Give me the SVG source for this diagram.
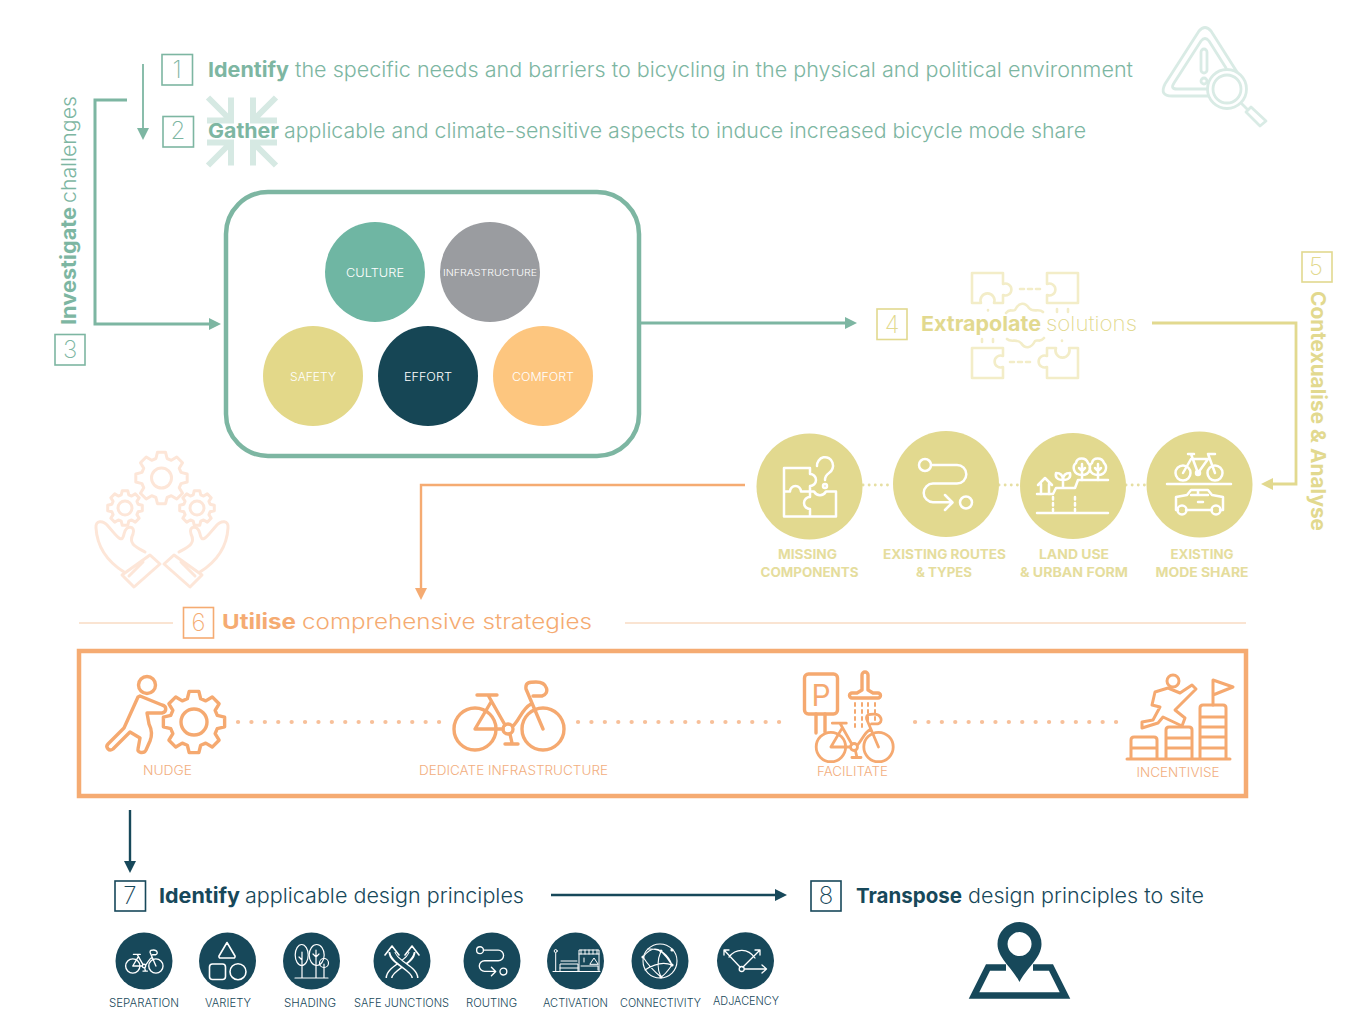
<svg xmlns="http://www.w3.org/2000/svg" width="1346" height="1010" viewBox="0 0 1346 1010">
<style>
text{font-family:Inter,"Liberation Sans",sans-serif}
.bd{font-weight:700}.rg{font-weight:300}.lt{font-weight:200}
.grn{fill:#7db6a2}.yel{fill:#e2d98f}.org{fill:#f5ab72}.drk{fill:#17485a}
.num{font-size:24px;font-weight:200;text-anchor:middle}
.hd{font-size:20.500px}
.box{fill:none;stroke-width:1.600}
.cl{fill:#fff;font-size:11.500px;font-weight:300;text-anchor:middle}
.yl{font-size:13px;font-weight:700;text-anchor:middle;fill:#e5dd9d}
.ol{font-size:12.500px;font-weight:300;text-anchor:middle;fill:#f2ae7e}
.dl{font-size:11px;font-weight:300;text-anchor:middle;fill:#17485a}
.wi{fill:none;stroke:#fff;stroke-width:1.600;stroke-linecap:round;stroke-linejoin:round}
.ywi{fill:none;stroke:#fff;stroke-width:2.500;stroke-linecap:round;stroke-linejoin:round}
.oi{fill:none;stroke:#f5a970;stroke-width:3.400;stroke-linecap:round;stroke-linejoin:round}
.ns{vector-effect:non-scaling-stroke}
</style>
<defs>
<marker id="ag" viewBox="0 0 10 10" refX="0" refY="5" markerWidth="12" markerHeight="14" markerUnits="userSpaceOnUse" orient="auto"><path d="M0,0L10,5L0,10Z" fill="#7db6a2"/></marker>
<marker id="ay" viewBox="0 0 10 10" refX="0" refY="5" markerWidth="12" markerHeight="14" markerUnits="userSpaceOnUse" orient="auto"><path d="M0,0L10,5L0,10Z" fill="#e2d98f"/></marker>
<marker id="ao" viewBox="0 0 10 10" refX="0" refY="5" markerWidth="12" markerHeight="14" markerUnits="userSpaceOnUse" orient="auto"><path d="M0,0L10,5L0,10Z" fill="#f5ab72"/></marker>
<marker id="ad" viewBox="0 0 10 10" refX="0" refY="5" markerWidth="12" markerHeight="14" markerUnits="userSpaceOnUse" orient="auto"><path d="M0,0L10,5L0,10Z" fill="#17485a"/></marker>
<path id="gear" class="ns" d="M75,-21.500L98.800,-15.600L98.800,15.600L75,21.500L68.200,37.800L80.900,58.800L58.800,80.900L37.800,68.200L21.500,75L15.600,98.800L-15.600,98.800L-21.500,75L-37.800,68.200L-58.800,80.900L-80.900,58.800L-68.200,37.800L-75,21.500L-98.800,15.600L-98.800,-15.600L-75,-21.500L-68.200,-37.800L-80.900,-58.800L-58.800,-80.900L-37.800,-68.200L-21.500,-75L-15.600,-98.800L15.600,-98.800L21.500,-75L37.800,-68.200L58.800,-80.900L80.900,-58.800L68.200,-37.800Z"/>
<g id="bike"><circle cx="-33" cy="0" r="21"/><circle cx="35" cy="0" r="21"/><circle cx="0" cy="0" r="5"/><path d="M-31,-34H-11M-20,-34L-3,-4M-5,0H-33L-17,-27M5,-3C12,-10 14,-20 23,-25M35,0L18,-40C17,-47 22,-47 28,-47C40,-47 42,-35 34,-33L25,-33M2,5L4,14M-3,15H10"/></g>
<g id="route"><circle cx="-21" cy="-19" r="6"/><path d="M-15,-19H11a9.300,9.300 0 0 1 0,18.600H-13a9.300,9.300 0 0 0 0,18.600H6M-1,11l7.500,7.500l-7.500,7.500"/><circle cx="20" cy="18.500" r="6"/></g>
<g id="inward"><path d="M-11,-34V-11H-35M-11,-11L-34,-34"/></g>
<g id="hand"><path d="M150,555L160,564L134,587L122,575ZM143,562L129,576"/><path d="M145,552C136,547 128,544 133,534C136,526 126,524 124,534C122,545 116,535 108,526C103,520 95,520 96,528C97,545 105,560 124,572"/></g>
</defs>

<g id="connectors" fill="none">
<path d="M143,64V128" stroke="#7db6a2" stroke-width="1.800" marker-end="url(#ag)"/>
<path d="M127,100H95V324H209" stroke="#7db6a2" stroke-width="3" marker-end="url(#ag)"/>
<path d="M641,323H845" stroke="#7db6a2" stroke-width="3" marker-end="url(#ag)"/>
<path d="M1152,323H1296V484H1273" stroke="#e2d98f" stroke-width="2.800" marker-end="url(#ay)"/>
<path d="M745,485H421V588" stroke="#f5ab72" stroke-width="2.400" marker-end="url(#ao)"/>
<path d="M130,810V861" stroke="#17485a" stroke-width="2.400" marker-end="url(#ad)"/>
<path d="M551,895H775" stroke="#17485a" stroke-width="2.400" marker-end="url(#ad)"/>
<path d="M863,485H893M999,485H1020M1126,485H1147" stroke="#e6dfa3" stroke-width="2.800" stroke-linecap="round" stroke-dasharray="0.100 6"/>
<path d="M238,722H440M578,722H783M915,722H1120" stroke="#f7c09a" stroke-width="4.200" stroke-linecap="round" stroke-dasharray="0.100 13.300"/>
<path d="M79,623H173M625,623H1246" stroke="#f5c9a6" stroke-width="1.200"/>
</g>

<g id="step1">
<rect class="box" x="162" y="54.500" width="30.500" height="30.500" stroke="#7db6a2"/>
<text class="num grn" x="177" y="78">1</text>
<text class="hd grn" y="77"><tspan class="bd" x="208" textLength="81" lengthAdjust="spacingAndGlyphs">Identify</tspan> <tspan class="rg" x="295" textLength="838" lengthAdjust="spacingAndGlyphs">the specific needs and barriers to bicycling in the physical and political environment</tspan></text>
</g>
<g id="warning-icon" fill="none" stroke="#d9ebe5" stroke-width="2.800" stroke-linejoin="round" stroke-linecap="round">
<path d="M1199,31Q1205,24 1211,31L1237,72M1199,31L1165,84Q1159,96 1172,96H1210"/>
<path d="M1201,41Q1205,36 1209,41L1226,68M1201,41L1174,83Q1170,89 1177,89H1208"/>
<rect x="1201" y="49" width="6" height="24" rx="3"/>
<circle cx="1204" cy="81" r="3"/>
<circle cx="1227" cy="89" r="19.500" fill="#fff"/>
<circle cx="1227" cy="89" r="14"/>
<path d="M1242,104L1248,110M1251,107L1266,121L1260,126L1246,112Z"/>
</g>
<g id="gather-icon" fill="none" stroke="#d6e9e3" stroke-width="6">
<use href="#inward" transform="translate(242,131.500)"/>
<use href="#inward" transform="translate(242,131.500) scale(-1,1)"/>
<use href="#inward" transform="translate(242,131.500) scale(1,-1)"/>
<use href="#inward" transform="translate(242,131.500) scale(-1,-1)"/>
</g>
<g id="step2">
<rect class="box" x="163" y="116.500" width="30.500" height="30.500" stroke="#7db6a2"/>
<text class="num grn" x="178" y="139">2</text>
<text class="hd grn" y="138"><tspan class="bd" x="208" textLength="71" lengthAdjust="spacingAndGlyphs">Gather</tspan> <tspan class="rg" x="284" textLength="802" lengthAdjust="spacingAndGlyphs">applicable and climate-sensitive aspects to induce increased bicycle mode share</tspan></text>
</g>
<g id="step3">
<rect class="box" x="55" y="334.500" width="30" height="30.500" stroke="#7db6a2"/>
<text class="num grn" x="70" y="358">3</text>
<text class="hd grn" transform="translate(76,325) rotate(-90)"><tspan class="bd" x="0" textLength="118" lengthAdjust="spacingAndGlyphs">Investigate</tspan> <tspan class="rg" x="122" textLength="107" lengthAdjust="spacingAndGlyphs">challenges</tspan></text>
</g>

<g id="challenges">
<rect x="226" y="192" width="413" height="264" rx="42" fill="#fff" stroke="#7db6a2" stroke-width="4.500"/>
<circle cx="375" cy="272" r="50" fill="#6fb6a3"/><text class="cl" x="375" y="277" textLength="58" lengthAdjust="spacingAndGlyphs">CULTURE</text>
<circle cx="490" cy="272" r="50" fill="#9a9ca0"/><text class="cl" x="490" y="276" style="font-size:9.500px" textLength="94" lengthAdjust="spacingAndGlyphs">INFRASTRUCTURE</text>
<circle cx="313" cy="376" r="50" fill="#e3d889"/><text class="cl" x="313" y="381" textLength="46" lengthAdjust="spacingAndGlyphs">SAFETY</text>
<circle cx="428" cy="376" r="50" fill="#164655"/><text class="cl" x="428" y="381" textLength="48" lengthAdjust="spacingAndGlyphs">EFFORT</text>
<circle cx="543" cy="376" r="50" fill="#fdc67f"/><text class="cl" x="543" y="381" textLength="62" lengthAdjust="spacingAndGlyphs">COMFORT</text>
</g>

<g id="extrapolate-icon" fill="none" stroke="#f3edc8" stroke-width="2.600" stroke-linecap="round" stroke-linejoin="round">
<g id="puzzle-half">
<path d="M972,273H1003V284a6,6 0 1 1 0,11V303H994a7,7 0 1 0 -13,0H972Z"/>
<path d="M1052,273H1078V303H1047V295a6,6 0 1 0 0,-11V273H1052"/>
<path d="M1020,289H1042" stroke-dasharray="4 4"/>
<path d="M1006,313c4,-5 6,-1 9,-3c4,-8 10,-8 14,-2c4,5 10,0 14,4M988,310v.5M1057,309v3M1068,309v3"/>
</g>
<use href="#puzzle-half" transform="rotate(180 1025 325.500)"/>
</g>
<g id="step4">
<rect class="box" x="877" y="309" width="30" height="30.500" stroke="#e2d98f"/>
<text class="num yel" x="892" y="333">4</text>
<text class="hd yel" y="331"><tspan class="bd" x="921" textLength="120" lengthAdjust="spacingAndGlyphs">Extrapolate</tspan> <tspan class="lt" x="1046" textLength="91" lengthAdjust="spacingAndGlyphs">solutions</tspan></text>
</g>
<g id="step5">
<rect class="box" x="1302" y="252" width="30" height="30" stroke="#e2d98f"/>
<text class="num yel" x="1316" y="275">5</text>
<text class="hd bd yel" transform="translate(1311,291) rotate(90)" textLength="240" lengthAdjust="spacingAndGlyphs">Contexualise &amp; Analyse</text>
</g>

<g id="missing-components">
<circle cx="809.500" cy="486.500" r="53" fill="#e2d98f"/>
<path class="ywi" d="M810,468H784V516.500H836V491.500H826c-3,5 -9,5 -12,0H810M784,491.500H790a5.500,5.500 0 0 1 11,0H810M810,468V474a6,6 0 0 1 0,12V497a6,6 0 0 0 0,12V516.500"/>
<path class="ywi" d="M817,466a8,8.500 0 1 1 12,7c-3,2 -4,4 -4,7"/><circle class="ywi" cx="825" cy="486" r="2"/>
<text class="yl" x="807.500" y="559" textLength="59" lengthAdjust="spacingAndGlyphs">MISSING</text>
<text class="yl" x="809.500" y="577" textLength="98" lengthAdjust="spacingAndGlyphs">COMPONENTS</text>
</g>
<g id="existing-routes">
<circle cx="946" cy="484" r="53" fill="#e2d98f"/>
<use href="#route" class="ywi" transform="translate(946,484)"/>
<text class="yl" x="944.500" y="559" textLength="123" lengthAdjust="spacingAndGlyphs">EXISTING ROUTES</text>
<text class="yl" x="944" y="577" textLength="56" lengthAdjust="spacingAndGlyphs">&amp; TYPES</text>
</g>
<g id="land-use">
<circle cx="1073" cy="486" r="53" fill="#e2d98f"/>
<g class="ywi">
<path d="M1037,513H1108M1037,494H1053L1056,488H1075L1078,480H1108"/>
<path d="M1053,497V511M1075,497V511" stroke-dasharray="2.500 3.500"/>
<path d="M1038,485L1045,478L1052,485M1041,484V494M1049,484V494"/>
<path d="M1063,487V480M1063,480c-6,0 -8,-3 -7,-7c4,0 7,2 7,7c0,-5 3,-7 7,-7c1,4 -1,7 -7,7"/>
<path d="M1082,480V464M1079,468L1082,471L1085,468M1098,480V464M1095,468L1098,471L1101,468"/>
<path d="M1082,475c-9,0 -10,-9 -6,-12c1,-6 10,-6 12,0c4,4 2,12 -6,12M1098,475c-9,0 -10,-9 -6,-12c1,-6 10,-6 12,0c4,4 2,12 -6,12"/>
</g>
<text class="yl" x="1074" y="559" textLength="70" lengthAdjust="spacingAndGlyphs">LAND USE</text>
<text class="yl" x="1074" y="577" textLength="108" lengthAdjust="spacingAndGlyphs">&amp; URBAN FORM</text>
</g>
<g id="mode-share">
<circle cx="1199.500" cy="484.500" r="53" fill="#e2d98f"/>
<g class="ywi">
<circle cx="1183" cy="473" r="7.500"/><circle cx="1215" cy="473" r="7.500"/><circle cx="1198" cy="473" r="2"/>
<path d="M1188,454H1194M1191,454L1198,473M1183,473L1191,459H1208L1198,473M1215,473L1208,454H1215"/>
<path d="M1167,484H1231"/>
<path d="M1178,510H1176V497L1187,495L1191,490H1208L1212,495L1223,497V510H1220M1186,510H1212M1191,495H1208M1198,490V495M1198,502H1203"/>
<circle cx="1182" cy="510" r="4.500"/><circle cx="1216" cy="510" r="4.500"/>
</g>
<text class="yl" x="1202" y="559" textLength="63" lengthAdjust="spacingAndGlyphs">EXISTING</text>
<text class="yl" x="1202" y="577" textLength="93" lengthAdjust="spacingAndGlyphs">MODE SHARE</text>
</g>

<g id="hands-icon" fill="none" stroke="#fde6d8" stroke-width="3" stroke-linejoin="round" stroke-linecap="round">
<use href="#gear" transform="translate(161.500,478) scale(.26)"/><circle cx="161.500" cy="478" r="10"/>
<use href="#gear" transform="translate(125,508) scale(.175)"/><circle cx="125" cy="508" r="7"/>
<use href="#gear" transform="translate(197,508) scale(.175)"/><circle cx="197" cy="508" r="7"/>
<use href="#hand"/><use href="#hand" transform="matrix(-1 0 0 1 324 0)"/>
</g>

<g id="step6">
<rect class="box" x="183.500" y="607.500" width="30" height="30.500" stroke="#f5ab72"/>
<text class="num org" x="198.500" y="631">6</text>
<text class="hd org" y="629"><tspan class="bd" x="222" textLength="74" lengthAdjust="spacingAndGlyphs">Utilise</tspan> <tspan class="rg" x="302" textLength="290" lengthAdjust="spacingAndGlyphs">comprehensive strategies</tspan></text>
</g>
<g id="strategies">
<rect x="79" y="651" width="1167" height="145" fill="none" stroke="#f5ab72" stroke-width="4.500"/>
</g>
<g id="nudge">
<g class="oi">
<circle cx="147" cy="685" r="8.500"/>
<path d="M140,696L162,705C167,706 167,712 162,713L147,713L149,724C152,730 152,736 150,741L146,750C144,754 137,753 138,749L140,738L130,732L113,749C109,752 105,747 108,744L124,728L138,697Z"/>
<use href="#gear" transform="translate(194,722) scale(.31)"/><circle cx="194" cy="722" r="13"/>
</g>
<text class="ol" x="167.500" y="775" textLength="49" lengthAdjust="spacingAndGlyphs">NUDGE</text>
</g>
<g id="dedicate">
<use href="#bike" class="oi" transform="translate(508,729)"/>
<text class="ol" x="513.500" y="775" textLength="189" lengthAdjust="spacingAndGlyphs">DEDICATE INFRASTRUCTURE</text>
</g>
<g id="facilitate">
<g class="oi">
<rect x="804.500" y="674" width="33" height="40" rx="4"/>
<path d="M816,714V733M825,714V732"/>
<path d="M862,690V675a3,3 0 0 1 6,0V690M862,690L857,693H852a2.500,2.500 0 0 0 0,5H878a2.500,2.500 0 0 0 0,-5H873L868,690"/>
<path d="M855,703V730M862,703V730M868,703V722M875,703V722" stroke-width="2" stroke-dasharray="3 4"/>
<use href="#bike" transform="translate(854,747) scale(.7)" style="stroke-width:4"/>
</g>
<text style="font-size:30px;font-weight:400;fill:#f5a970;text-anchor:middle" x="821" y="706">P</text>
<text class="ol" x="852.500" y="776" textLength="71" lengthAdjust="spacingAndGlyphs">FACILITATE</text>
</g>
<g id="incentivise">
<g class="oi" style="stroke-width:3">
<path d="M1127,759H1230M1131,759V740q0,-3 3,-3H1154q3,0 3,3V759M1131,748H1157M1166,759V730q0,-3 3,-3H1189q3,0 3,3V759M1166,738H1192M1166,748H1192M1200,759V708q0,-3 3,-3H1223q3,0 3,3V759M1200,717H1226M1200,727H1226M1200,737H1226M1200,748H1226"/>
<path d="M1213,705V680L1233,687L1213,695"/>
<circle cx="1173" cy="681" r="6"/>
<path d="M1168,688L1180,693L1192,685L1196,689L1182,703L1175,710L1185,718L1182,726L1163,717L1158,723L1142,728L1142,722L1153,720L1160,707L1152,705L1155,692Z"/>
</g>
<text class="ol" x="1178" y="777" textLength="83" lengthAdjust="spacingAndGlyphs">INCENTIVISE</text>
</g>

<g id="step7">
<rect class="box" x="115" y="881" width="30.500" height="30" stroke="#17485a"/>
<text class="num drk" x="130" y="904">7</text>
<text class="hd drk" y="903"><tspan class="bd" x="159" textLength="81" lengthAdjust="spacingAndGlyphs">Identify</tspan> <tspan class="rg" x="245" textLength="279" lengthAdjust="spacingAndGlyphs">applicable design principles</tspan></text>
</g>
<g id="step8">
<rect class="box" x="811" y="881" width="30" height="30" stroke="#17485a"/>
<text class="num drk" x="826" y="904">8</text>
<text class="hd drk" y="903"><tspan class="bd" x="856" textLength="106" lengthAdjust="spacingAndGlyphs">Transpose</tspan> <tspan class="rg" x="968" textLength="236" lengthAdjust="spacingAndGlyphs">design principles to site</tspan></text>
</g>

<g id="separation">
<circle cx="144" cy="961" r="28.500" fill="#17485a"/>
<use href="#bike" class="wi" transform="translate(144,966) scale(.34)" style="stroke-width:4"/>
<text class="dl" x="144" y="1007" textLength="70" lengthAdjust="spacingAndGlyphs">SEPARATION</text>
</g>
<g id="variety">
<circle cx="227.500" cy="961" r="28.500" fill="#17485a"/>
<path class="wi" d="M227,942.500L235,956a1.500,1.500 0 0 1 -1.500,2H220.500a1.500,1.500 0 0 1 -1.500,-2Z"/>
<rect class="wi" x="209.500" y="964" width="16" height="15.500" rx="3"/><circle class="wi" cx="238" cy="971.700" r="8"/>
<text class="dl" x="228" y="1007" textLength="46" lengthAdjust="spacingAndGlyphs">VARIETY</text>
</g>
<g id="shading">
<circle cx="311.500" cy="961" r="28.500" fill="#17485a"/>
<g class="wi" style="stroke-width:1.200">
<ellipse cx="301.700" cy="955" rx="6.500" ry="10.500"/><ellipse cx="316.700" cy="955" rx="7.500" ry="10.500"/><circle cx="324" cy="963" r="4.500"/>
<path d="M295,978H328M302,978V952M299,957L302,960M316,978V950M313,954L316,957L319,954M324,978V964"/>
</g>
<text class="dl" x="310" y="1007" textLength="52" lengthAdjust="spacingAndGlyphs">SHADING</text>
</g>
<g id="safe-junctions">
<circle cx="402" cy="961" r="28.500" fill="#17485a"/>
<path d="M389,978C389,968 412,962 412,952" fill="none" stroke="#fff" stroke-width="7"/>
<path d="M389,978C389,968 412,962 412,950" fill="none" stroke="#17485a" stroke-width="4"/>
<path d="M415,978C415,968 392,962 392,952" fill="none" stroke="#fff" stroke-width="7"/>
<path d="M415,978C415,968 392,962 392,950" fill="none" stroke="#17485a" stroke-width="4"/>
<path class="wi" d="M385,955L392,946L399,955M405,955L412,946L419,955"/>
<text class="dl" x="401.500" y="1007" textLength="95" lengthAdjust="spacingAndGlyphs">SAFE JUNCTIONS</text>
</g>
<g id="routing">
<circle cx="492" cy="961" r="28.500" fill="#17485a"/>
<use href="#route" class="wi" transform="translate(492,961) scale(.57)" style="stroke-width:2.400"/>
<text class="dl" x="491.500" y="1007" textLength="51" lengthAdjust="spacingAndGlyphs">ROUTING</text>
</g>
<g id="activation">
<circle cx="575.500" cy="961" r="28.500" fill="#17485a"/>
<g class="wi" style="stroke-width:1">
<path d="M553,971.500H600M555.700,971V953M560,971V964H578V971M560,968H578M561,961H577"/>
<circle cx="555.700" cy="951" r="1.500"/>
<path d="M579,971V950H599V971M579,954H599M581,950V954M585,950V954M589,950V954M593,950V954M597,950V954M581,966H598V970M590,964L594,958L598,964ZM584,962V958"/>
</g>
<text class="dl" x="575.500" y="1007" textLength="65" lengthAdjust="spacingAndGlyphs">ACTIVATION</text>
</g>
<g id="connectivity">
<circle cx="660" cy="961" r="28.500" fill="#17485a"/>
<g class="wi" style="stroke-width:1.100">
<circle cx="660" cy="961" r="17"/>
<path d="M643,957Q652,945 661,951Q668,958 672,965Q665,975 661,977Q650,968 643,957M661,951Q655,965 661,977M648,949Q666,948 672,965M645,970Q660,960 672,965"/>
</g>
<g fill="#fff"><circle cx="661" cy="951" r="1.600"/><circle cx="643" cy="957" r="1.600"/><circle cx="672" cy="965" r="1.600"/><circle cx="661" cy="977" r="1.600"/><circle cx="672" cy="950" r="1.600"/></g>
<text class="dl" x="660.500" y="1007" textLength="81" lengthAdjust="spacingAndGlyphs">CONNECTIVITY</text>
</g>
<g id="adjacency">
<circle cx="745.500" cy="960.800" r="28.500" fill="#17485a"/>
<g class="wi" style="stroke-width:1.300">
<circle cx="741.700" cy="969" r="2.500"/>
<path d="M740,967L724,950M743,967L760,950M744.500,969H766M724,955V950H729M755,950H760V955M762,965L766.500,969L762,973M729,957C736,948 748,948 755,958"/>
</g>
<text class="dl" x="746" y="1005" textLength="66" lengthAdjust="spacingAndGlyphs">ADJACENCY</text>
</g>

<g id="site-map">
<path d="M1019.500,922a22,22 0 0 1 22,22c0,14 -15,24 -22,38c-7,-14 -22,-24 -22,-38a22,22 0 0 1 22,-22ZM1019.500,932a12,12 0 1 0 .1,0Z" fill="#17485a" fill-rule="evenodd"/>
<path d="M1006,967.500H988L974,995.500H1065L1051,967.500H1033" fill="none" stroke="#17485a" stroke-width="6.500"/>
</g>
</svg>
